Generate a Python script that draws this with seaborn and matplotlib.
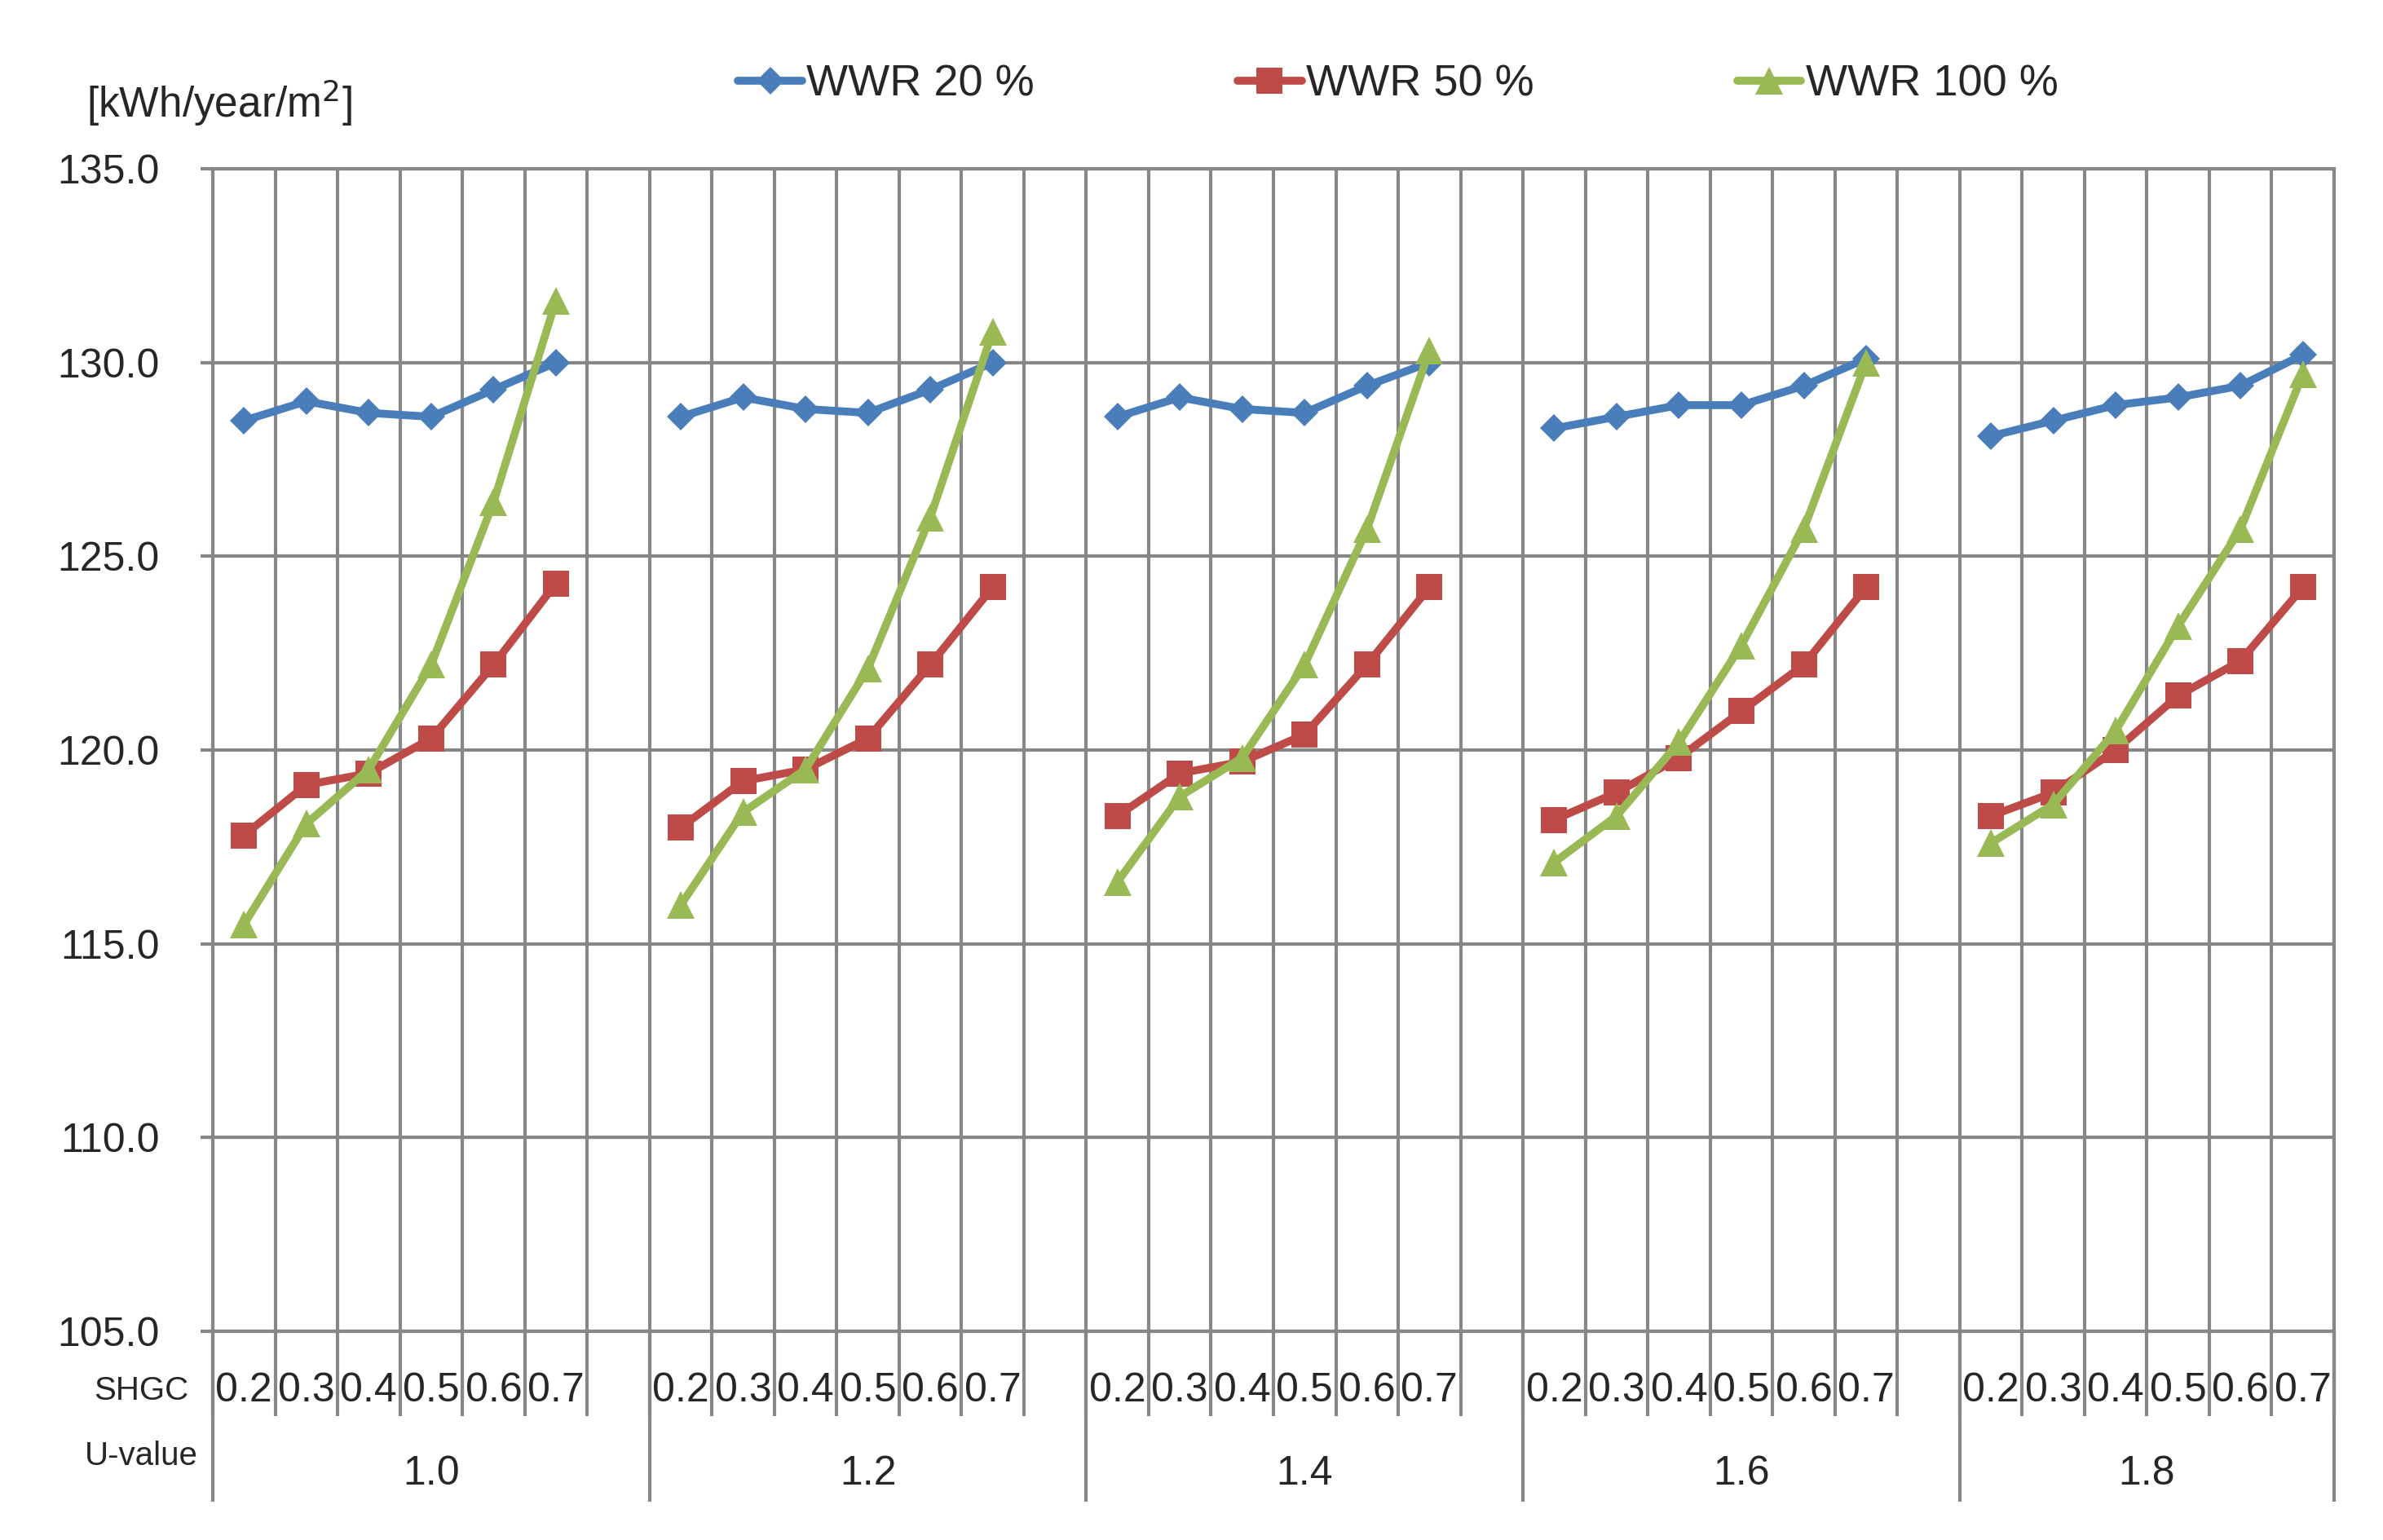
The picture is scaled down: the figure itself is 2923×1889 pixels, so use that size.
import numpy as np
import pandas as pd
import matplotlib
matplotlib.use('Agg')
import matplotlib.pyplot as plt
import matplotlib.transforms as mtransforms
from matplotlib.lines import Line2D
import seaborn as sns

# 1. DADOS
u_values = ['1.0', '1.2', '1.4', '1.6', '1.8']
shgc = ['0.2', '0.3', '0.4', '0.5', '0.6', '0.7']
series = ['WWR 20 %', 'WWR 50 %', 'WWR 100 %']

wwr20 = [128.5, 129.0, 128.7, 128.6, 129.3, 130.0,
         128.6, 129.1, 128.8, 128.7, 129.3, 130.0,
         128.6, 129.1, 128.8, 128.7, 129.4, 130.0,
         128.3, 128.6, 128.9, 128.9, 129.4, 130.1,
         128.1, 128.5, 128.9, 129.1, 129.4, 130.2]
wwr50 = [117.8, 119.1, 119.4, 120.3, 122.2, 124.3,
         118.0, 119.2, 119.5, 120.3, 122.2, 124.2,
         118.3, 119.4, 119.7, 120.4, 122.2, 124.2,
         118.2, 118.9, 119.8, 121.0, 122.2, 124.2,
         118.3, 118.9, 120.0, 121.4, 122.3, 124.2]
wwr100 = [115.5, 118.1, 119.5, 122.2, 126.4, 131.6,
          116.0, 118.4, 119.5, 122.1, 126.0, 130.8,
          116.6, 118.8, 119.8, 122.2, 125.7, 130.3,
          117.1, 118.3, 120.2, 122.7, 125.7, 130.0,
          117.6, 118.6, 120.5, 123.2, 125.7, 129.7]

colors = ['#4A7EBB', '#BE4B48', '#98B954']
markers = ['D', 's', '^']
grid_color = '#878787'
LW = 7
MS = {'D': 17, 's': 23, '^': 24}

# formato longo: 7 colunas por grupo (6 SHGC + 1 vazia)
rows = []
for name, vals in zip(series, [wwr20, wwr50, wwr100]):
    for g, u in enumerate(u_values):
        for i, s in enumerate(shgc):
            rows.append({'series': name, 'U': u, 'SHGC': s,
                         'pos': g * 7 + i + 0.5, 'value': vals[g * 6 + i]})
df = pd.DataFrame(rows)
n_cols = 7 * len(u_values) - 1

# 2. FIGURA
sns.set_theme(style='white')
plt.rcParams['font.family'] = ['Liberation Sans Narrow', 'Liberation Sans', 'DejaVu Sans']
FS = 36

fig = plt.figure(figsize=(29.23, 18.89), dpi=100)
ax = fig.add_axes([261 / 2923, 1 - 1633 / 1889, (2863 - 261) / 2923, (1633 - 207) / 1889])

sns.lineplot(data=df, x='pos', y='value', hue='series', style='series', units='U',
             estimator=None, sort=False, palette=colors, markers=markers, dashes=False,
             linewidth=LW, markersize=22, markeredgewidth=0, legend=False, ax=ax)
for line in ax.lines:
    line.set_markersize(MS.get(line.get_marker(), 22))

ax.set_xlim(0, n_cols)
ax.set_ylim(105, 135)
ax.set_yticks(np.arange(105, 136, 5))
ax.set_yticklabels([f'{v:.1f}' for v in np.arange(105, 136, 5)], fontsize=FS)
ax.set_xlabel('')
ax.set_ylabel('')

# grade
ax.set_xticks(np.arange(0, n_cols + 1), minor=True)
ax.set_xticks([])
ax.grid(which='minor', axis='x', color=grid_color, linewidth=3)
ax.grid(which='major', axis='y', color=grid_color, linewidth=3)
for sp in ax.spines.values():
    sp.set_color(grid_color)
    sp.set_linewidth(3)
ax.tick_params(axis='y', which='major', left=True, length=11, width=3, color=grid_color, pad=36)
ax.tick_params(axis='x', which='minor', bottom=True, length=75, width=3, color=grid_color,
               labelbottom=False)

trans = mtransforms.blended_transform_factory(ax.transData, ax.transAxes)
ax_h = 1633 - 207

# rótulos SHGC e U-value
for g, u in enumerate(u_values):
    for i, s in enumerate(shgc):
        ax.text(g * 7 + i + 0.5, -73 / ax_h, s, transform=trans, ha='center', va='center',
                fontsize=FS, clip_on=False)
    g_end = min(g * 7 + 7, n_cols)
    ax.text((g * 7 + g_end) / 2, -175 / ax_h, u, transform=trans, ha='center', va='center',
            fontsize=FS, clip_on=False)

# separadores longos entre grupos
seps = [g * 7 for g in range(len(u_values))] + [n_cols]
ax.vlines(seps, -209 / ax_h, 0, transform=trans, color=grid_color, linewidth=3, clip_on=False)

fig.text(173 / 2923, 1 - 1706 / 1889, 'SHGC', ha='center', va='center', fontsize=29)
fig.text(173 / 2923, 1 - 1786 / 1889, 'U-value', ha='center', va='center', fontsize=29)
fig.text(106 / 2923, 1 - 126 / 1889, '[kWh/year/m$^2$]', ha='left', va='center', fontsize=FS + 1)

# legenda
handles = [Line2D([], [], color=c, marker=m, linewidth=LW, markeredgewidth=0,
                  markersize=MS[m])
           for c, m in zip(colors, markers)]
fig.legend(handles, series, loc='center', bbox_to_anchor=(1715 / 2923, 1 - 104 / 1889),
           ncol=3, frameon=False, fontsize=39, handlelength=1.45, handletextpad=0.1,
           columnspacing=4.6, borderpad=0)

fig.savefig('out.png', dpi=100)
